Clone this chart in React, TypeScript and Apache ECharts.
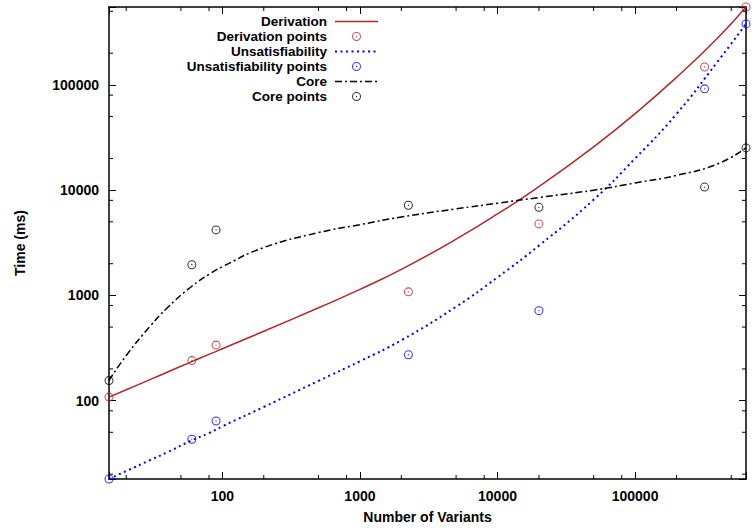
import React, { useEffect, useRef } from 'react';
import * as echarts from 'echarts';

// Axis ranges
const X_MIN = 15;
const X_MAX = 640000;
const Y_MIN = 18;
const Y_MAX = 550000;

// Tick labels / minor ticks
const X_TICK_LABELS = ['100', '1000', '10000', '100000'];
const Y_TICK_LABELS = ['100', '1000', '10000', '100000'];
const X_MINOR_TICKS = [20, 50, 80, 200, 500, 800, 2000, 5000, 8000, 20000, 50000, 80000, 200000, 500000];
const Y_MINOR_TICKS = [20, 50, 80, 200, 500, 800, 2000, 5000, 8000, 20000, 50000, 80000, 200000, 500000];

// Measured points
const POINT_X = [15, 60, 90, 2250, 20000, 320000, 640000];
const DERIVATION_POINTS = [108, 240, 337, 1080, 4780, 148000, 550000];
const UNSAT_POINTS = [18, 43, 64, 273, 716, 91700, 380000];
const CORE_POINTS = [155, 1955, 4190, 7180, 6870, 10700, 25200];

// Fitted curves
const CURVE_X = [15, 20, 30, 40, 60, 80, 100, 200, 500, 1000, 2000, 5000, 10000, 20000, 50000, 100000, 200000, 400000, 640000];
const DERIVATION_CURVE = [108, 127, 159, 187, 235, 275, 311, 456, 762, 1140, 1766, 3420, 5940, 10800, 25800, 53300, 118000, 281000, 550000];
const UNSAT_CURVE = [18, 21.4, 27.3, 32.4, 42, 49.2, 57, 87, 154, 237, 375, 780, 1486, 2970, 8130, 20000, 53000, 168000, 380000];
const CORE_CURVE = [155, 268, 513, 767, 1222, 1585, 1875, 2845, 3950, 4700, 5560, 6640, 7520, 8510, 10000, 11700, 13800, 17800, 25200];

const NAMES = [
  'Derivation',
  'Derivation points',
  'Unsatisfiability',
  'Unsatisfiability points',
  'Core',
  'Core points',
];

export default function App() {
  const ref = useRef<HTMLDivElement>(null);

  useEffect(() => {
    document.body.style.margin = '0';
    const chart = echarts.init(ref.current!, null, { renderer: 'svg' });
    const FONT = "'Liberation Sans', Arial, Helvetica, sans-serif";
    const RED = '#b0282a';
    const BLUE = '#0000ff';
    const BLACK = '#000000';
    const RING =
      'path://M10,0A10,10,0,1,1,-10,0A10,10,0,1,1,10,0ZM7.7,0A7.7,7.7,0,1,0,-7.7,0A7.7,7.7,0,1,0,7.7,0ZM1.5,0A1.5,1.5,0,1,1,-1.5,0A1.5,1.5,0,1,1,1.5,0Z';

    const lineSeries = (name: string, ys: number[], color: string, type: any, width: number) => ({
      name,
      type: 'line',
      data: CURVE_X.map((x, i) => [x, ys[i]]),
      symbol: 'none',
      smooth: 0.5,
      lineStyle: { color, width, type },
      itemStyle: { color },
      z: 2,
    });
    const pointSeries = (name: string, ys: number[], color: string) => ({
      name,
      type: 'scatter',
      data: POINT_X.map((x, i) => [x, ys[i]]),
      symbol: RING,
      symbolSize: 9,
      itemStyle: { color },
      z: 3,
    });

    const labelFmt = (list: string[]) => (v: number) => {
      const s = String(Math.round(v));
      return list.indexOf(s) >= 0 ? s : '';
    };

    const axisCommon = {
      type: 'log',
      logBase: 10,
      splitNumber: 5,
      splitLine: { show: false },
      axisLine: { show: true, lineStyle: { color: BLACK, width: 1.5 } },
      axisTick: { show: true, inside: true, length: 7, lineStyle: { color: BLACK, width: 1 } },
    };
    const labelStyle = { fontFamily: FONT, fontWeight: 'bold', fontSize: 14, color: BLACK, margin: 10 };
    const nameStyle = { fontFamily: FONT, fontWeight: 'bold', fontSize: 14, color: BLACK };

    const tickLine = (x1: number, y1: number, x2: number, y2: number) => ({
      type: 'line',
      shape: { x1, y1, x2, y2 },
      style: { stroke: BLACK, lineWidth: 1 },
    });

    const option: any = {
      animation: false,
      grid: { left: 109, right: 7, top: 7, bottom: 49, containLabel: false },
      legend: {
        orient: 'vertical',
        align: 'right',
        right: 374,
        top: 14,
        padding: 0,
        itemGap: 0,
        itemWidth: 43,
        itemHeight: 9,
        selectedMode: false,
        symbolKeepAspect: true,
        lineStyle: { width: 'inherit' },
        textStyle: {
          fontFamily: FONT,
          fontWeight: 'bold',
          fontSize: 13.5,
          color: BLACK,
          lineHeight: 15,
          padding: [0, 3, 0, 0],
        },
        data: NAMES.map((n, i) => (i % 2 === 0 ? { name: n, itemStyle: { opacity: 0 } } : { name: n })),
      },
      xAxis: [
        {
          ...axisCommon,
          position: 'bottom',
          min: X_MIN,
          max: X_MAX,
          name: 'Number of Variants',
          nameLocation: 'middle',
          nameGap: 31,
          nameTextStyle: nameStyle,
          axisLabel: { ...labelStyle, formatter: labelFmt(X_TICK_LABELS) },
        },
        {
          ...axisCommon,
          position: 'top',
          min: X_MIN,
          max: X_MAX,
          axisLabel: { show: false },
        },
      ],
      yAxis: [
        {
          ...axisCommon,
          position: 'left',
          min: Y_MIN,
          max: Y_MAX,
          name: 'Time (ms)',
          nameLocation: 'middle',
          nameGap: 82,
          nameTextStyle: nameStyle,
          axisLabel: { ...labelStyle, formatter: labelFmt(Y_TICK_LABELS) },
        },
        {
          ...axisCommon,
          position: 'right',
          min: Y_MIN,
          max: Y_MAX,
          axisLabel: { show: false },
        },
      ],
      series: [
        lineSeries(NAMES[0], DERIVATION_CURVE, RED, 'solid', 1.5),
        pointSeries(NAMES[1], DERIVATION_POINTS, RED),
        lineSeries(NAMES[2], UNSAT_CURVE, BLUE, [2, 3.5], 2),
        pointSeries(NAMES[3], UNSAT_POINTS, BLUE),
        lineSeries(NAMES[4], CORE_CURVE, BLACK, [7, 3, 2, 3], 1.5),
        pointSeries(NAMES[5], CORE_POINTS, BLACK),
        {
          type: 'custom',
          silent: true,
          clip: false,
          xAxisIndex: 0,
          yAxisIndex: 0,
          data: X_MINOR_TICKS.map((v) => [v, Y_MIN]),
          renderItem: (params: any, api: any) => {
            const x = api.coord([api.value(0), Y_MIN])[0];
            const cs = params.coordSys;
            const yb = cs.y + cs.height;
            return {
              type: 'group',
              children: [tickLine(x, yb, x, yb - 4), tickLine(x, cs.y, x, cs.y + 4)],
            };
          },
        },
        {
          type: 'custom',
          silent: true,
          clip: false,
          xAxisIndex: 0,
          yAxisIndex: 0,
          data: Y_MINOR_TICKS.map((v) => [X_MIN, v]),
          renderItem: (params: any, api: any) => {
            const y = api.coord([X_MIN, api.value(1)])[1];
            const cs = params.coordSys;
            const xr = cs.x + cs.width;
            return {
              type: 'group',
              children: [tickLine(cs.x, y, cs.x + 4, y), tickLine(xr, y, xr - 4, y)],
            };
          },
        },
      ],
    };

    chart.setOption(option);
    return () => chart.dispose();
  }, []);

  return <div ref={ref} style={{ width: 753, height: 529 }} />;
}
